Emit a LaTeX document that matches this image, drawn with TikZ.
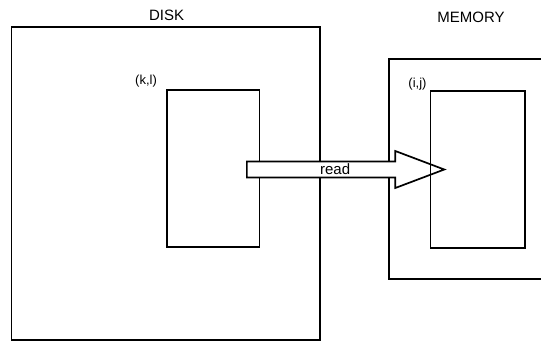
\documentclass[tikz,border=0pt]{standalone}
\usepackage{fontspec}
\setmainfont{Liberation Sans}
\usetikzlibrary{shapes.arrows}
\begin{document}
\begin{tikzpicture}[x=1pt,y=-1pt,
  box/.style={draw, line width=1.7pt, inner sep=0pt, outer sep=0pt, anchor=north west},
  lbl/.style={inner sep=0pt, font=\fontsize{13}{15}\selectfont},
  title/.style={inner sep=0pt, font=\fontsize{15}{17}\selectfont},
  bigarrow/.style={single arrow, draw, fill=white, line width=1.7pt, inner sep=0pt,
    single arrow head extend=8.5pt, single arrow tip angle=41.4,
    minimum height=197.4pt, minimum width=37pt, font=\fontsize{15}{17}\selectfont}]
\useasboundingbox (0,0) rectangle (541,342);
\clip (0,0) rectangle (541,342);
% disk
\node[box, minimum width=308.8pt, minimum height=313.3pt] (disk) at (11.4,26.7) {};
\node[box, minimum width=92.8pt, minimum height=156.7pt] (dblock) at (166.7,90) {};
% memory
\node[box, minimum width=200pt, minimum height=220pt] (mem) at (389,59.3) {};
% labels
\node[title] (disklbl) at (166.6,15.3) {DISK};
\node[title] (memlbl) at (471,17.3) {MEMORY};
\node[lbl] (kl) at (146,81.5) {(k,l)};
\node[lbl] (ij) at (417.5,84) {(i,j)};
% arrow
\node[bigarrow, anchor=west] (rd) at (246,169.5) {read};
% memory block drawn over the arrow
\node[box, minimum width=94.6pt, minimum height=157pt] (mblock) at (430.6,90.7) {};
\end{tikzpicture}
\end{document}
